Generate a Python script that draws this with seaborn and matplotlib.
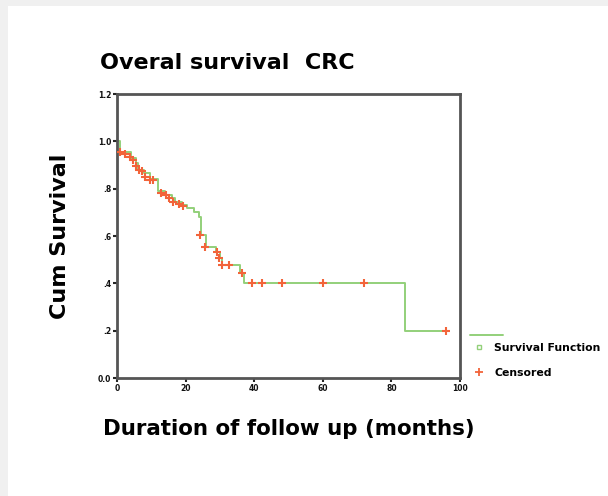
import seaborn as sns
import matplotlib.pyplot as plt
import pandas as pd
from matplotlib.lines import Line2D
from matplotlib.patches import Rectangle

# Kaplan-Meier step curve (time in months, cumulative survival)
step_time = [0, 1.0, 4.0, 5.5, 6.0, 8.0, 9.5, 12.0, 14.0, 16.0, 17.0, 19.0, 20.5,
             22.5, 24.0, 24.5, 26.0, 29.0, 30.0, 30.5, 36.0, 37.0, 84.0, 96.0]
step_surv = [1.0, 0.956, 0.93, 0.91, 0.88, 0.865, 0.84, 0.79, 0.775, 0.76, 0.745, 0.73, 0.72,
             0.70, 0.68, 0.605, 0.554, 0.533, 0.507, 0.478, 0.444, 0.402, 0.20, 0.20]

# censored observations
cens_time = [1.0, 2.3, 3.8, 4.7, 5.5, 6.3, 7.3, 8.2, 9.6, 10.5, 12.8, 14.3, 15.2, 16.3,
             18.0, 19.2, 24.2, 25.7, 29.2, 29.7, 30.6, 32.7, 36.4, 39.4, 42.3, 48.0,
             60.0, 72.0, 96.0]
cens_surv = [0.956, 0.948, 0.935, 0.92, 0.895, 0.88, 0.875, 0.85, 0.835, 0.835, 0.78, 0.775,
             0.76, 0.745, 0.735, 0.725, 0.605, 0.554, 0.533, 0.507, 0.478, 0.478, 0.444,
             0.402, 0.402, 0.402, 0.402, 0.402, 0.20]

yticks = [0.0, 0.2, 0.4, 0.6, 0.8, 1.0, 1.2]
ytick_labels = ['0.0', '.2', '.4', '.6', '.8', '1.0', '1.2']
xticks = [0, 20, 40, 60, 80, 100]

green = '#93d07a'
red = '#f2643a'

sns.set_style("ticks")
plt.rcParams['font.family'] = ['DejaVu Sans']

steps = pd.DataFrame({'time': step_time, 'surv': step_surv})
cens = pd.DataFrame({'time': cens_time, 'surv': cens_surv})

fig = plt.figure(figsize=(6.08, 4.96), dpi=100, facecolor='#f0f0f0')
fig.add_artist(Rectangle((8 / 608, 0), 1, 1 - 6 / 496, transform=fig.transFigure,
                         facecolor='white', edgecolor='none', zorder=0))
ax = fig.add_axes([117 / 608, 1 - 378 / 496, 343 / 608, 284 / 496])

sns.lineplot(x='time', y='surv', data=steps, drawstyle='steps-post', color=green,
             linewidth=1.4, ax=ax, estimator=None, sort=False)
sns.scatterplot(x='time', y='surv', data=cens, marker='+', color=red, s=28,
                linewidth=1.5, ax=ax, zorder=3)

ax.set_xlim(0, 100)
ax.set_ylim(0, 1.2)
ax.set_xticks(xticks)
ax.set_xticklabels([str(t) for t in xticks], fontsize=5.5, fontweight='bold', color='#111111')
ax.set_yticks(yticks)
ax.set_yticklabels(ytick_labels, fontsize=5.5, fontweight='bold', color='#111111')
ax.tick_params(length=3, width=1.5, pad=1)
for s in ax.spines.values():
    s.set_visible(True)
    s.set_linewidth(2)
    s.set_color('#555555')

ax.set_xlabel('Duration of follow up (months)', fontsize=15.4, fontweight='bold',
              labelpad=19, color='black')
ax.set_ylabel('Cum Survival', fontsize=16, fontweight='bold', labelpad=20, color='black')
fig.text(100 / 608, 1 - 63 / 496, 'Overal survival  CRC', fontsize=16, fontweight='bold',
         ha='left', va='center', color='black')

# legend: line sample on its own row, then the two markers
line_leg = ax.legend([Line2D([], [], color=green, linewidth=1.4)], [''], loc='upper left',
                     bbox_to_anchor=(1.029, 0.165), frameon=False, fontsize=7.5,
                     handlelength=3.2, borderpad=0, borderaxespad=0)
ax.add_artist(line_leg)

handles = [Line2D([], [], color=green, marker='s', markersize=3.5, markerfacecolor='none',
                  linestyle='none'),
           Line2D([], [], color=red, marker='+', markersize=6, markeredgewidth=1.3,
                  linestyle='none')]
leg = ax.legend(handles, ['Survival Function', 'Censored'], loc='upper left',
                bbox_to_anchor=(1.035, 0.123), frameon=False, fontsize=7.8, handlelength=1.2,
                handletextpad=0.85, labelspacing=1.35, borderpad=0, borderaxespad=0)
for t in leg.get_texts():
    t.set_fontweight('bold')
    t.set_color('black')

fig.savefig('out.png', dpi=100, facecolor=fig.get_facecolor())
